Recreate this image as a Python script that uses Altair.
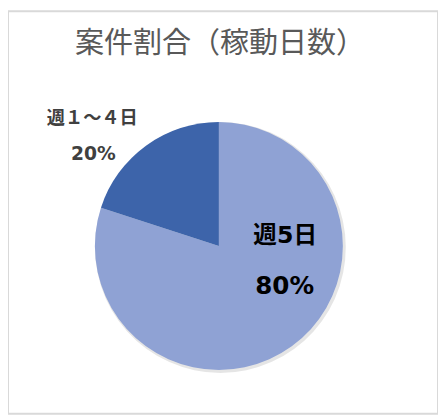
import altair as alt
import pandas as pd

title_text = "案件割合（稼動日数）"
categories = ["週5日", "週１～４日"]
values = [80, 20]
pct_labels = ["80%", "20%"]
colors = ["#8FA2D4", "#3D64AA"]

df = pd.DataFrame({"cat": categories, "value": values, "pct": pct_labels, "idx": [0, 1]})
FONT = "DejaVu Sans, Noto Sans CJK JP"
TITLE_FONT = "Noto Sans CJK JP"
CX, CY, R = 214.3, 238.5, 126
TOTAL = sum(values)
theta_scale = alt.Scale(domain=[0, TOTAL])

base = alt.Chart(df)

shadow = base.mark_arc(outerRadius=R + 1.5, color="#000000", opacity=0.10).encode(
    theta=alt.Theta("value:Q", stack=True, scale=theta_scale),
    order=alt.Order("idx:Q"),
    x=alt.value(CX + 1.5), y=alt.value(CY + 1.5),
)

pie = base.mark_arc(outerRadius=R).encode(
    theta=alt.Theta("value:Q", stack=True, scale=theta_scale),
    color=alt.Color("cat:N", scale=alt.Scale(domain=categories, range=colors), legend=None),
    order=alt.Order("idx:Q"),
    x=alt.value(CX), y=alt.value(CY),
)


def label(cat, field, r, dx, dy, size, color):
    return (
        base.transform_window(cum="sum(value)", sort=[alt.SortField("idx")])
        .transform_calculate(mid="datum.cum - datum.value / 2")
        .transform_filter(alt.datum.cat == cat)
        .mark_text(fontSize=size, fontWeight="bold", font=FONT, color=color,
                   dx=dx, dy=dy, align="center", baseline="middle")
        .encode(
            theta=alt.Theta("mid:Q", scale=theta_scale),
            radius=alt.value(r),
            text=alt.Text(f"{field}:N"),
            x=alt.value(CX), y=alt.value(CY),
        )
    )


lab_a1 = label(categories[0], "cat", 50, 38, -50, 24, "#000000")
lab_a2 = label(categories[0], "pct", 50, 37.5, 0, 25, "#000000")
lab_b1 = label(categories[1], "cat", 150, -40.5, -8.3, 18.5, "#404040")
lab_b2 = label(categories[1], "pct", 150, -39.5, 28, 19, "#404040")

title = alt.Chart(pd.DataFrame({"t": [title_text]})).mark_text(
    fontSize=29.5, color="#595959", font=TITLE_FONT, align="center", baseline="middle"
).encode(text="t:N", x=alt.value(215.5), y=alt.value(33.5))

chart = (
    alt.layer(shadow, pie, lab_a1, lab_a2, lab_b1, lab_b2, title)
    .properties(width=437, height=409, padding=0, autosize="none")
    .configure_view(stroke="#D9D9D9", strokeWidth=2)
)

chart.save("out.html", embed_options={"renderer": "svg", "actions": False})
